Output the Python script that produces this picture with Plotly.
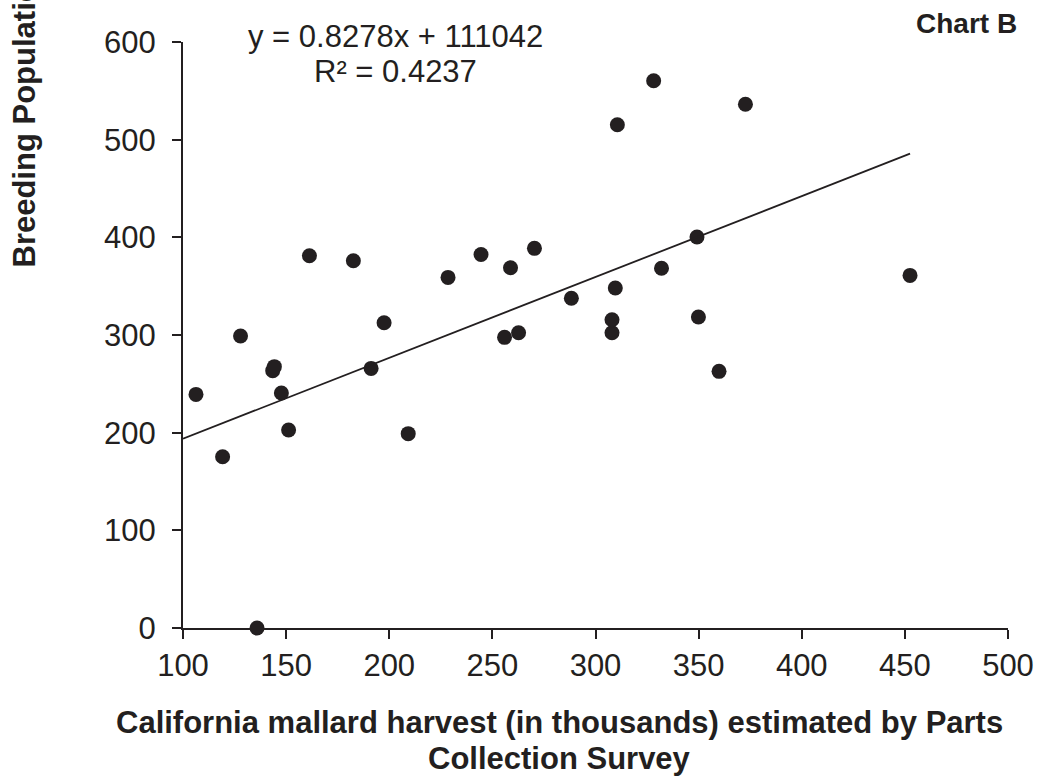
import plotly.graph_objects as go

harvest = [106.3, 119.2, 127.9, 135.9, 143.5, 144.3, 147.7, 151.2, 161.3, 182.6,
           191.2, 197.5, 209.2, 228.5, 244.5, 255.9, 258.8, 262.7, 270.4, 288.3,
           308.0, 308.0, 309.6, 310.6, 328.2, 332.0, 349.2, 349.9, 359.9, 372.7,
           452.5]
breeding = [239.2, 175.4, 299.0, 0.0, 263.5, 267.6, 240.6, 202.7, 381.1, 376.1,
            265.8, 312.6, 199.0, 359.0, 382.5, 297.6, 368.9, 302.3, 388.7, 337.6,
            302.3, 315.6, 348.1, 515.3, 560.4, 368.3, 400.3, 318.4, 262.8, 536.2,
            361.0]
slope = 0.8278
intercept = 111.042
x_ticks = [100, 150, 200, 250, 300, 350, 400, 450, 500]
y_ticks = [0, 100, 200, 300, 400, 500, 600]
eq_line1 = "y = 0.8278x + 111042"
eq_line2 = "R² = 0.4237"
x_title1 = "California mallard harvest (in thousands) estimated by Parts"
x_title2 = "Collection Survey"
y_title = "Breeding Population (in thousands)"
tag = "Chart B"

INK = "#231f20"
FONT = "Liberation Sans, Arial, sans-serif"

fig = go.Figure()
fig.add_trace(go.Scatter(x=harvest, y=breeding, mode="markers",
                         marker=dict(size=15, color=INK), showlegend=False,
                         cliponaxis=False))
tx = [x_ticks[0], max(harvest)]
fig.add_trace(go.Scatter(x=tx, y=[slope * v + intercept for v in tx], mode="lines",
                         line=dict(color=INK, width=1.8), showlegend=False))

W, H = 1040, 778
L, R, T, B = 183, 32, 42, 150
pw, ph = W - L - R, H - T - B


def px(xp):
    return (xp - L) / pw


def py(yp):
    return (H - B - yp) / ph


def ann(text, x, y, size, bold=False, **kw):
    t = f"<b>{text}</b>" if bold else text
    d = dict(text=t, xref="paper", yref="paper", x=px(x), y=py(y),
             xanchor="center", yanchor="middle", showarrow=False,
             font=dict(size=size, family=FONT, color=INK))
    d.update(kw)
    return d


fig.update_layout(
    width=W, height=H,
    margin=dict(l=L, r=R, t=T, b=B, autoexpand=False),
    paper_bgcolor="white", plot_bgcolor="white",
    font=dict(family=FONT, color=INK),
    xaxis=dict(range=[100, 500], tickvals=x_ticks, ticks="outside", ticklen=9,
               tickwidth=1.5, tickcolor=INK, showline=True, linecolor=INK,
               linewidth=2, showgrid=False, zeroline=False, automargin=False,
               tickfont=dict(size=31, family=FONT, color=INK)),
    yaxis=dict(range=[0, 600], tickvals=y_ticks, ticks="outside", ticklen=9,
               tickwidth=1.5, tickcolor=INK, showline=True, linecolor=INK,
               linewidth=2, showgrid=False, zeroline=False, automargin=False,
               ticklabelstandoff=10,
               tickfont=dict(size=31, family=FONT, color=INK)),
    annotations=[
        ann(eq_line1, 395, 36, 31),
        ann(eq_line2, 395, 72, 31),
        ann(tag, 966, 24, 28, bold=True),
        ann(x_title1, 559, 722, 31, bold=True),
        ann(x_title2, 559, 758, 31, bold=True),
        ann(y_title, 24, 270, 31, bold=True, yanchor="bottom", textangle=-90),
    ],
)

fig.write_html("out.html", config={"displayModeBar": False},
               post_script="document.body.style.margin='0';")
